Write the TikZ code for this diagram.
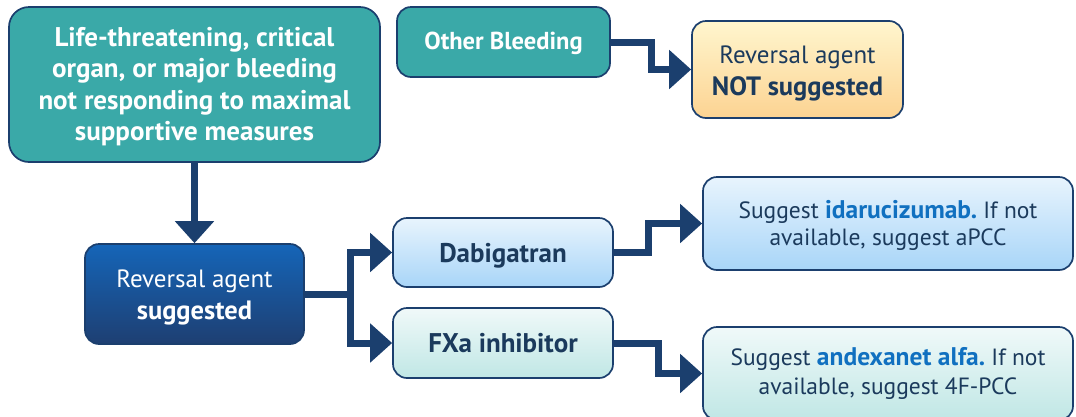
\documentclass[tikz,border=0pt]{standalone}
\usepackage{fontspec}
\setmainfont{PT Sans}
\usetikzlibrary{arrows.meta,calc}
\frenchspacing

\definecolor{navy}{RGB}{27,63,110}
\definecolor{teal}{RGB}{58,169,168}
\definecolor{inktext}{RGB}{27,58,92}
\definecolor{drugblue}{RGB}{16,112,192}
\definecolor{revtop}{RGB}{21,101,184}
\definecolor{revbot}{RGB}{30,63,114}
\definecolor{skytop}{RGB}{232,244,253}
\definecolor{skybot}{RGB}{168,213,248}
\definecolor{minttop}{RGB}{240,249,249}
\definecolor{mintbot}{RGB}{192,231,229}
\definecolor{sandtop}{RGB}{255,246,206}
\definecolor{sandbot}{RGB}{252,211,146}

% bold text set a little larger than the regular text beside it
\newcommand{\boldline}[1]{{\fontsize{26.5}{32}\selectfont\bfseries #1}}
\newcommand{\drugname}[1]{{\fontsize{25.5}{27}\selectfont\bfseries\color{drugblue}#1}}
% invisible strut that lowers a node's text block a little
\newcommand{\topstrut}[1]{\rule{0pt}{#1}}

\tikzset{
  card/.style={draw=navy, line width=1.7pt, rounded corners=14pt, align=center,
    inner sep=0pt, text=inktext},
  tealcard/.style={card, fill=teal, text=white},
  skycard/.style={card, top color=skytop, bottom color=skybot},
  mintcard/.style={card, top color=minttop, bottom color=mintbot},
  conn/.style={draw=navy, line width=7pt, line join=miter,
    -{Triangle[length=22pt,width=38pt]}},
}

\begin{document}
\begin{tikzpicture}[x=1pt,y=-1pt]
\useasboundingbox (0,0) rectangle (1076,416);
\clip (0,0) rectangle (1076,416);

% bleeding categories
\node[tealcard, rounded corners=20pt, minimum width=371pt, minimum height=155pt,
  font=\fontsize{27}{31.5}\selectfont\bfseries] (major) at (194.5,84.5)
  {\topstrut{23pt}Life-threatening, critical\\organ, or major bleeding\\not responding to maximal\\supportive measures};
\node[tealcard, minimum width=213pt, minimum height=70pt,
  font=\fontsize{24.5}{28}\selectfont\bfseries] (other) at (503.5,42) {\topstrut{21pt}Other Bleeding};

% reversal decisions
\node[card, top color=sandtop, bottom color=sandbot, minimum width=211pt, minimum height=97pt,
  font=\fontsize{25}{32}\selectfont] (notsugg) at (797.5,69.5)
  {\topstrut{26pt}Reversal agent\\\boldline{NOT suggested}};
\node[card, top color=revtop, bottom color=revbot, text=white, minimum width=219pt,
  minimum height=100pt, font=\fontsize{25}{32}\selectfont] (sugg) at (194.5,294)
  {\topstrut{24pt}Reversal agent\\\boldline{suggested}};

% anticoagulant classes
\node[skycard, minimum width=220pt, minimum height=69pt,
  font=\fontsize{27}{30}\selectfont\bfseries] (dabi) at (503,252.5) {\topstrut{25pt}Dabigatran};
\node[mintcard, minimum width=220pt, minimum height=70pt,
  font=\fontsize{27}{30}\selectfont\bfseries] (fxa) at (503,343) {FXa inhibitor};

% recommended agents
\node[skycard, minimum width=370pt, minimum height=93pt,
  font=\fontsize{23.5}{27}\selectfont] (idaru) at (888,223.5)
  {\topstrut{21pt}Suggest \drugname{idarucizumab.} If not\\available, suggest aPCC};
\node[mintcard, minimum width=370pt, minimum height=93pt,
  font=\fontsize{23.5}{29}\selectfont] (andex) at (888,373.5)
  {Suggest \drugname{andexanet alfa.} If not\\available, suggest 4F-PCC};

% connectors
\draw[conn] (major.south) -- (sugg.north);
\draw[conn] (other.east) -- ++(41,0) |- (notsugg.west);
\draw[conn] (sugg.east) -- ++(46,0) |- (dabi.west);
\draw[conn] (sugg.east) -- ++(46,0) |- (fxa.west);
\draw[conn] (dabi.east) -- ++(35,0) |- (idaru.west);
\draw[conn] (fxa.east) -- ++(45,0) |- (andex.west);
\end{tikzpicture}
\end{document}
